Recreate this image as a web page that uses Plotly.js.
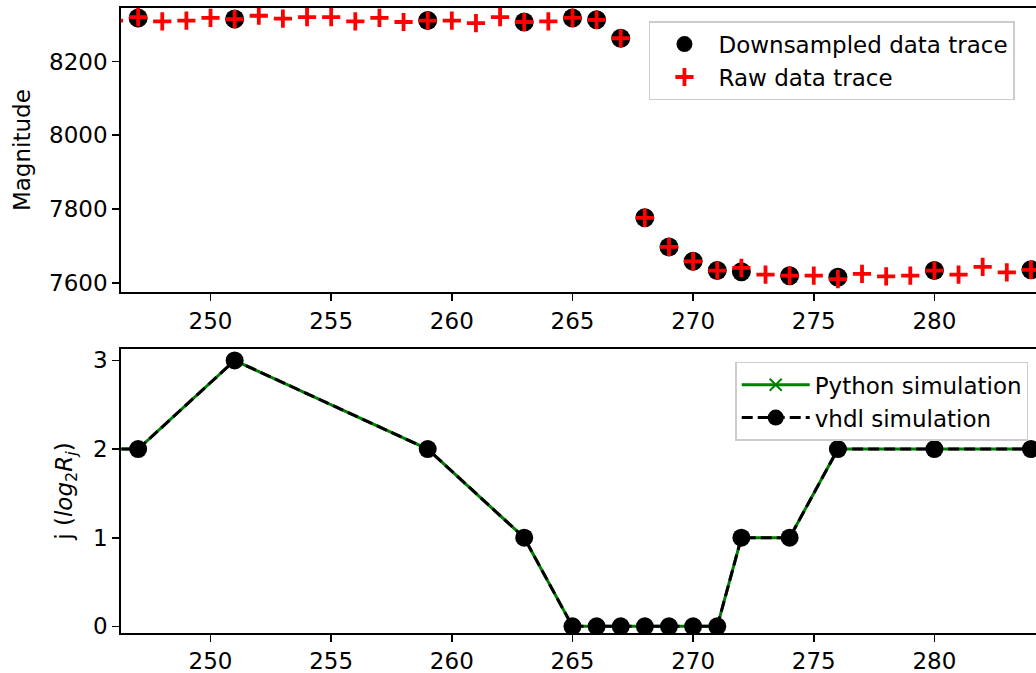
<!DOCTYPE html>
<html>
<head>
<meta charset="utf-8">
<script src="https://cdn.plot.ly/plotly-3.0.1.min.js"></script>
<style>html,body{margin:0;padding:0;background:#fff;}#chart{width:1036px;height:673px;}</style>
</head>
<body>
<div id="chart"></div>
<script>
// Top panel: raw samples (every index) and downsampled samples
const rawX = [246,247,248,249,250,251,252,253,254,255,256,257,258,259,260,261,262,263,264,265,266,267,268,269,270,271,272,273,274,275,276,277,278,279,280,281,282,283,284];
const rawY = [8311,8320,8309,8311,8318,8315,8324,8316,8320,8320,8309,8318,8307,8311,8311,8304,8320,8307,8309,8318,8313,8263,7776,7697,7658,7633,7640,7622,7619,7619,7610,7624,7617,7619,7633,7622,7643,7628,7635];
const downX = [247,251,259,263,265,266,267,268,269,270,271,272,274,276,280,284];
const downY = [8318,8315,8311,8307,8318,8313,8263,7776,7697,7658,7633,7630,7619,7615,7633,7635];

// Bottom panel: decimation exponent j
const simX = [243,247,251,259,263,265,266,267,268,269,270,271,272,274,276,280,284,288];
const pythonJ = [2,2,3,2,1,0,0,0,0,0,0,0,1,1,2,2,2,2];
const vhdlJ   = [2,2,3,2,1,0,0,0,0,0,0,0,1,1,2,2,2,2];

const xTicks = [250,255,260,265,270,275,280];
const magTicks = [7600,7800,8000,8200];
const jTicks = [0,1,2,3];

const FONT = 'DejaVu Sans, sans-serif';
const FS = 23;

const traces = [
  {x: downX, y: downY, type:'scatter', mode:'markers', name:'Downsampled data trace',
   xaxis:'x', yaxis:'y', legend:'legend',
   marker:{symbol:'circle', size:19, color:'black'}},
  {x: rawX, y: rawY, type:'scatter', mode:'markers', name:'Raw data trace',
   xaxis:'x', yaxis:'y', legend:'legend',
   marker:{symbol:'cross-thin', size:13, color:'red', line:{color:'red', width:3.8}}},
  {x: simX, y: pythonJ, type:'scatter', mode:'lines+markers', name:'Python simulation',
   xaxis:'x2', yaxis:'y2', legend:'legend2',
   line:{color:'#008000', width:3},
   marker:{symbol:'x-thin', size:12, color:'#008000', line:{color:'#008000', width:2}}},
  {x: simX, y: vhdlJ, type:'scatter', mode:'lines+markers', name:'vhdl simulation',
   xaxis:'x2', yaxis:'y2', legend:'legend2',
   line:{color:'black', width:3, dash:'11px,5px'},
   marker:{symbol:'circle', size:18, color:'black'}}
];

const axBase = {
  showline:true, linecolor:'black', linewidth:1.8,
  ticks:'outside', ticklen:7, tickwidth:1.6, tickcolor:'black',
  showgrid:false, zeroline:false,
  tickfont:{family:FONT, size:FS, color:'black'}
};

const layout = {
  width:1036, height:673,
  margin:{l:121, r:0, t:8, b:40},
  paper_bgcolor:'white', plot_bgcolor:'white',
  font:{family:FONT, size:FS, color:'black'},
  showlegend:true,
  xaxis: Object.assign({}, axBase, {domain:[0,1], anchor:'y', range:[246.29,284.21],
    tickmode:'array', tickvals:xTicks, mirror:true}),
  yaxis: Object.assign({}, axBase, {domain:[0.5451,1], anchor:'x', range:[7574,8345],
    tickmode:'array', tickvals:magTicks,
    title:{text:'Magnitude', font:{family:FONT, size:FS, color:'black'}, standoff:12}}),
  xaxis2: Object.assign({}, axBase, {domain:[0,1], anchor:'y2', range:[246.29,284.21],
    tickmode:'array', tickvals:xTicks, mirror:true}),
  yaxis2: Object.assign({}, axBase, {domain:[0,0.4544], anchor:'x2', range:[-0.075,3.129],
    tickmode:'array', tickvals:jTicks,
    title:{text:'j (<i>log</i><sub>2</sub><i>R<sub>j</sub></i>)', font:{family:FONT, size:FS, color:'black'}, standoff:14}}),
  legend:{x:0.977, y:0.979, xanchor:'right', yanchor:'top',
    bgcolor:'rgba(255,255,255,0.85)', bordercolor:'#cccccc', borderwidth:1.5,
    itemwidth:58,
    font:{family:FONT, size:FS, color:'black'}, tracegroupgap:0},
  legend2:{x:0.9915, y:0.434, xanchor:'right', yanchor:'top',
    bgcolor:'rgba(255,255,255,0.85)', bordercolor:'#cccccc', borderwidth:1.5,
    itemwidth:68,
    font:{family:FONT, size:FS, color:'black'}, tracegroupgap:0}
};

Plotly.newPlot('chart', traces, layout, {displayModeBar:false, staticPlot:true});
</script>
</body>
</html>
